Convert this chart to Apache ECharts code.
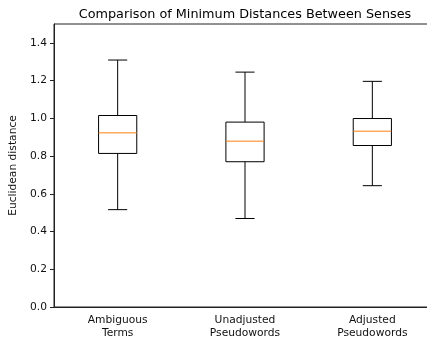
<!DOCTYPE html>
<html>
<head>
<meta charset="utf-8">
<script src="https://cdn.jsdelivr.net/npm/echarts@6/dist/echarts.min.js"></script>
<style>
  html, body { margin: 0; padding: 0; background: #fff; }
  #chart { width: 427px; height: 340px; }
</style>
</head>
<body>
<div id="chart"></div>
<script>
  const categories = ['Ambiguous\nTerms', 'Unadjusted\nPseudowords', 'Adjusted\nPseudowords'];
  const whiskerLow = [0.516, 0.469, 0.643];
  const q1 = [0.814, 0.770, 0.856];
  const median = [0.923, 0.879, 0.932];
  const q3 = [1.015, 0.980, 0.999];
  const whiskerHigh = [1.309, 1.245, 1.196];
  const yTicks = [0, 0.2, 0.4, 0.6, 0.8, 1.0, 1.2, 1.4];

  const boxData = categories.map((c, i) => [i, whiskerLow[i], q1[i], median[i], q3[i], whiskerHigh[i]]);

  const chart = echarts.init(document.getElementById('chart'), null, { renderer: 'canvas' });
  const font = 'DejaVu Sans';

  // matplotlib-style box: caps are half the box width
  function renderBox(params, api) {
    const idx = api.value(0);
    const band = api.size([1, 0])[0];
    const half = band * 0.3 / 2;
    const cap = half / 2;
    const x = api.coord([idx, 0])[0];
    const yLow = api.coord([idx, api.value(1)])[1];
    const yQ1 = api.coord([idx, api.value(2)])[1];
    const yMed = api.coord([idx, api.value(3)])[1];
    const yQ3 = api.coord([idx, api.value(4)])[1];
    const yHigh = api.coord([idx, api.value(5)])[1];
    const line = { stroke: '#000', lineWidth: 1, fill: null };
    return {
      type: 'group',
      children: [
        { type: 'line', shape: { x1: x, y1: yQ1, x2: x, y2: yLow }, style: line },
        { type: 'line', shape: { x1: x, y1: yQ3, x2: x, y2: yHigh }, style: line },
        { type: 'line', shape: { x1: x - cap, y1: yLow, x2: x + cap, y2: yLow }, style: line },
        { type: 'line', shape: { x1: x - cap, y1: yHigh, x2: x + cap, y2: yHigh }, style: line },
        { type: 'rect', shape: { x: x - half, y: yQ3, width: half * 2, height: yQ1 - yQ3 }, style: { stroke: '#000', lineWidth: 1, fill: 'none' } },
        { type: 'line', shape: { x1: x - half, y1: yMed, x2: x + half, y2: yMed }, style: { stroke: '#ff7f0e', lineWidth: 1 } }
      ]
    };
  }

  const option = {
    animation: false,
    title: {
      text: 'Comparison of Minimum Distances Between Senses',
      left: 240,
      top: 3,
      textAlign: 'center',
      textStyle: { fontFamily: font, fontSize: 12.8, fontWeight: 'normal', color: '#000' }
    },
    grid: {
      left: 54,
      top: 24,
      width: 382,
      height: 283,
      outerBoundsMode: 'none',
      containLabel: false,
      show: true,
      borderColor: '#222',
      borderWidth: 1
    },
    xAxis: {
      type: 'category',
      data: categories,
      boundaryGap: true,
      axisLine: { lineStyle: { color: '#222', width: 1 } },
      axisTick: { alignWithLabel: true, length: 4, lineStyle: { color: '#222' } },
      axisLabel: { fontFamily: font, fontSize: 10.7, color: '#111', lineHeight: 12.5, margin: 7 },
      splitLine: { show: false }
    },
    yAxis: {
      type: 'value',
      min: 0,
      max: 1.5,
      name: 'Euclidean distance',
      nameLocation: 'middle',
      nameRotate: 90,
      nameGap: 31,
      nameTextStyle: { fontFamily: font, fontSize: 10.7, color: '#111' },
      axisLine: { show: true, lineStyle: { color: '#222', width: 1 } },
      axisTick: { show: true, length: 4, customValues: yTicks, lineStyle: { color: '#222' } },
      axisLabel: {
        fontFamily: font, fontSize: 10.7, color: '#111', margin: 7,
        customValues: yTicks,
        formatter: v => v.toFixed(1)
      },
      splitLine: { show: false }
    },
    series: [{
      type: 'custom',
      renderItem: renderBox,
      encode: { x: 0, y: [1, 2, 3, 4, 5] },
      data: boxData
    }]
  };

  chart.setOption(option);
</script>
</body>
</html>
